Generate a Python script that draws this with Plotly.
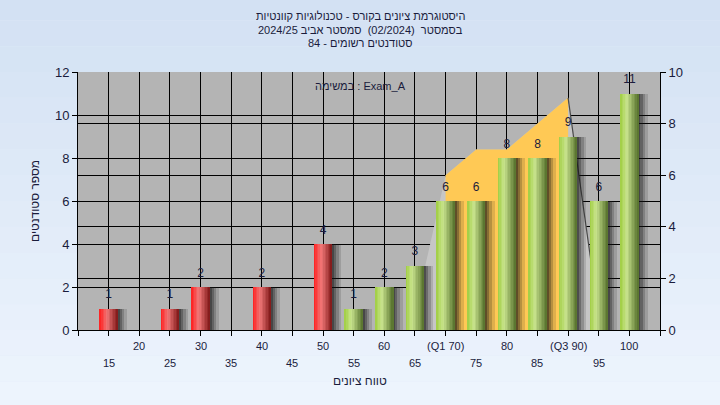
import plotly.graph_objects as go

# ---------------- data ----------------
grades = [15, 20, 25, 30, 35, 40, 45, 50, 55, 60, 65, 70, 75, 80, 85, 90, 95, 100]
counts = [1, 0, 1, 2, 0, 2, 0, 4, 1, 2, 3, 6, 6, 8, 8, 9, 6, 11]
tick_labels = ["15", "20", "25", "30", "35", "40", "45", "50", "55", "60", "65",
               "(Q1 70)", "75", "80", "85", "(Q3 90)", "95", "100"]
pass_grade = 55

curve_x = [65, 70, 75, 80, 85, 90, 95]
curve_vals = [0.7, 6, 7, 7, 8, 9, 0.5]
iqr_x = [70, 75, 80, 85, 90]
iqr_vals = [6, 7, 7, 8, 9]

title_lines = ["היסטוגרמת ציונים בקורס - טכנולוגיות קוונטיות",
               "בסמסטר  (02/2024)  סמסטר אביב 2024/25",
               "סטודנטים רשומים - 84"]
legend_text = "במשימה : Exam_A"
x_title = "טווח ציונים"
y_title = "מספר סטודנטים"

# ---------------- style ----------------
FONT = "Liberation Sans, Arial, DejaVu Sans, sans-serif"
TXT = "#1a1c3c"
BAR_W = 3.0
N_STRIPS = 12


def hex2rgb(h):
    h = h.lstrip("#")
    return tuple(int(h[i:i + 2], 16) for i in (0, 2, 4))


def grad(stops, t):
    for (t0, c0), (t1, c1) in zip(stops[:-1], stops[1:]):
        if t0 <= t <= t1:
            a = (t - t0) / (t1 - t0) if t1 > t0 else 0
            r0, r1 = hex2rgb(c0), hex2rgb(c1)
            return "rgb(%d,%d,%d)" % tuple(round(r0[k] + (r1[k] - r0[k]) * a) for k in range(3))
    return stops[-1][1]


red_stops = [(0, "#ff1c1c"), (0.4, "#f07878"), (1, "#7e1616")]
green_stops = [(0, "#9fcd40"), (0.35, "#c9e48e"), (1, "#55702b")]

fig = go.Figure()

# background curve (normal-like area) on the right axis
fig.add_trace(go.Scatter(x=curve_x, y=curve_vals, mode="lines", fill="tozeroy",
                         fillcolor="#c6c6c6", line=dict(width=0, color="#c6c6c6"),
                         yaxis="y", hoverinfo="skip", showlegend=False))
fig.add_trace(go.Scatter(x=iqr_x, y=iqr_vals, mode="lines", fill="tozeroy",
                         fillcolor="#ffc955", line=dict(width=0, color="#ffc955"),
                         yaxis="y", hoverinfo="skip", showlegend=False))
fig.add_trace(go.Scatter(x=curve_x[-2:], y=curve_vals[-2:], mode="lines",
                         line=dict(width=1.2, color="#4a4a4a"),
                         yaxis="y", hoverinfo="skip", showlegend=False))

# soft shadows to the right of each bar
for wd, al in [(1.7, 0.14), (1.25, 0.2), (0.85, 0.28), (0.5, 0.35)]:
    fig.add_trace(go.Bar(x=grades, y=counts, width=wd, offset=BAR_W / 2 - 0.2, yaxis="y2",
                         marker=dict(color="rgba(20,20,20,%.2f)" % al, line=dict(width=0)),
                         hoverinfo="skip", showlegend=False))

# cylinder bars built from overlapping strips
sw = BAR_W / N_STRIPS
for i in range(N_STRIPS):
    t = (i + 0.5) / N_STRIPS
    cols = [grad(red_stops, t) if g < pass_grade else grad(green_stops, t) for g in grades]
    fig.add_trace(go.Bar(x=grades, y=counts, width=BAR_W - i * sw,
                         offset=-BAR_W / 2 + i * sw, yaxis="y2",
                         marker=dict(color=cols, line=dict(width=0)),
                         hoverinfo="skip", showlegend=False))

# value labels
fig.add_trace(go.Scatter(x=grades, y=counts, yaxis="y2", mode="markers+text",
                         text=[str(c) if c else "" for c in counts],
                         textposition="top center",
                         marker=dict(size=10, opacity=0),
                         textfont=dict(family=FONT, size=12, color=TXT),
                         cliponaxis=False, hoverinfo="skip", showlegend=False))

# ---------------- layout ----------------
shapes = []
nb = 16
top_c, bot_c = hex2rgb("#d3e1f3"), hex2rgb("#edf4fd")
y_lo, y_hi = -0.3, 1.3
for k in range(nb):
    a = k / (nb - 1)
    c = "rgb(%d,%d,%d)" % tuple(round(top_c[j] + (bot_c[j] - top_c[j]) * a) for j in range(3))
    y1 = y_hi - (y_hi - y_lo) * k / nb
    y0 = y_hi - (y_hi - y_lo) * (k + 1) / nb
    shapes.append(dict(type="rect", xref="paper", yref="paper", x0=-0.2, x1=1.2,
                       y0=y0, y1=y1, fillcolor=c, line=dict(width=0), layer="below"))
shapes.append(dict(type="rect", xref="paper", yref="paper", x0=0, x1=1, y0=0, y1=1,
                   fillcolor="#b4b4b4", line=dict(width=0), layer="below"))

annotations = []
title_y = [1.216, 1.163, 1.112]
for line, yy in zip(title_lines, title_y):
    annotations.append(dict(text=line, xref="paper", yref="paper", x=0.485, y=yy,
                            xanchor="center", yanchor="middle", showarrow=False,
                            font=dict(family=FONT, size=11, color=TXT)))
for i, (g, lab) in enumerate(zip(grades, tick_labels)):
    annotations.append(dict(text=lab, xref="x", yref="paper", x=g, y=0,
                            xanchor="center", yanchor="middle",
                            yshift=-16 if i % 2 else -33, showarrow=False,
                            font=dict(family=FONT, size=11, color=TXT)))
annotations.append(dict(text=x_title, xref="paper", yref="paper", x=0.485, y=-0.198,
                        xanchor="center", yanchor="middle", showarrow=False,
                        font=dict(family=FONT, size=12, color=TXT)))
annotations.append(dict(text=y_title, xref="paper", yref="paper", x=-0.074, y=0.5,
                        xanchor="center", yanchor="middle", textangle=-90, showarrow=False,
                        font=dict(family=FONT, size=12, color=TXT)))
annotations.append(dict(text=legend_text, xref="paper", yref="paper", x=0.486, y=0.946,
                        xanchor="center", yanchor="middle", showarrow=False,
                        font=dict(family=FONT, size=11, color=TXT)))

fig.update_layout(
    width=720, height=405,
    margin=dict(l=78, r=60, t=72, b=75),
    paper_bgcolor="#e0ebf8",
    plot_bgcolor="#b4b4b4",
    barmode="overlay",
    bargap=0,
    showlegend=False,
    hovermode=False,
    shapes=shapes,
    annotations=annotations,
    xaxis=dict(range=[10, 105], tickmode="array", tickvals=list(range(10, 106, 5)),
               showticklabels=False, ticks="outside", ticklen=5, tickcolor="black",
               showgrid=True, gridcolor="black", gridwidth=1,
               showline=True, linecolor="black", linewidth=1, zeroline=False),
    yaxis=dict(range=[0, 10], side="right", tickmode="array", tickvals=[0, 2, 4, 6, 8, 10],
               ticks="outside", ticklen=5, tickcolor="black",
               tickfont=dict(family=FONT, size=13, color=TXT),
               showgrid=True, gridcolor="black", gridwidth=1,
               showline=True, linecolor="black", linewidth=1, zeroline=False),
    yaxis2=dict(range=[0, 12], side="left", overlaying="y", tickmode="array",
                tickvals=[0, 2, 4, 6, 8, 10, 12],
                ticks="outside", ticklen=5, tickcolor="black",
                tickfont=dict(family=FONT, size=13, color=TXT),
                showgrid=True, gridcolor="black", gridwidth=1,
                showline=True, linecolor="black", linewidth=1, zeroline=False),
    font=dict(family=FONT, color=TXT),
)

fig.write_html("out.html", config={"displayModeBar": False},
               post_script="document.body.style.margin='0';document.body.style.background='#e0ebf8';")
